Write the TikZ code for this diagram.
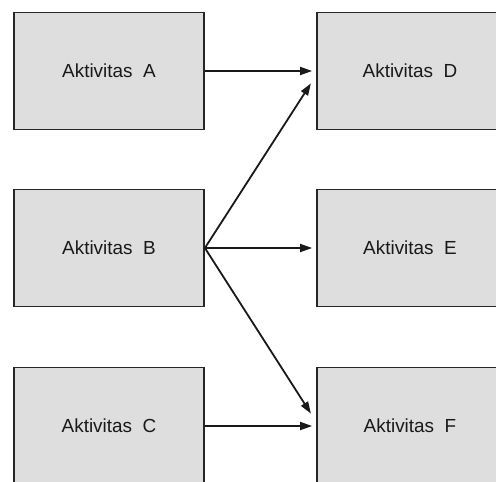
\documentclass[tikz,border=0pt]{standalone}
\usepackage{fontspec}
\setmainfont{Liberation Sans}
\usetikzlibrary{arrows.meta}
\begin{document}
\begin{tikzpicture}[x=1bp,y=-1bp,
  activity/.style={draw=black!85, line width=1.8bp, fill=black!13,
    minimum height=117bp, inner sep=0pt,
    font=\fontsize{19}{22}\selectfont, text=black!90},
  link/.style={line width=1.8bp, draw=black!90,
    -{Triangle[length=12bp,width=8bp]}, shorten >=4bp}
]
\useasboundingbox (0,0) rectangle (496,482);
\clip (0,0) rectangle (496,482);
\fill[white] (0,0) rectangle (496,482);

% left column
\node[activity, minimum width=190bp] (A) at (109,71) {Aktivitas\ \ A};
\node[activity, minimum width=190bp] (B) at (109,248) {Aktivitas\ \ B};
\node[activity, minimum width=190bp] (C) at (109,426) {Aktivitas\ \ C};

% right column
\node[activity, minimum width=186bp] (D) at (410,71) {Aktivitas\ \ D};
\node[activity, minimum width=186bp] (E) at (410,248) {Aktivitas\ \ E};
\node[activity, minimum width=186bp] (F) at (410,426) {Aktivitas\ \ F};

% landing points of the slanted connectors
\coordinate (dIn) at ([xshift=-3bp,yshift=-9bp]D.west);
\coordinate (fIn) at ([xshift=-3bp,yshift=9bp]F.west);

\draw[link] (A.east) -- (D.west);
\draw[link] (B.east) -- (E.west);
\draw[link] (C.east) -- (F.west);
\draw[link] (B.east) -- (dIn);
\draw[link] (B.east) -- (fIn);
\end{tikzpicture}
\end{document}
